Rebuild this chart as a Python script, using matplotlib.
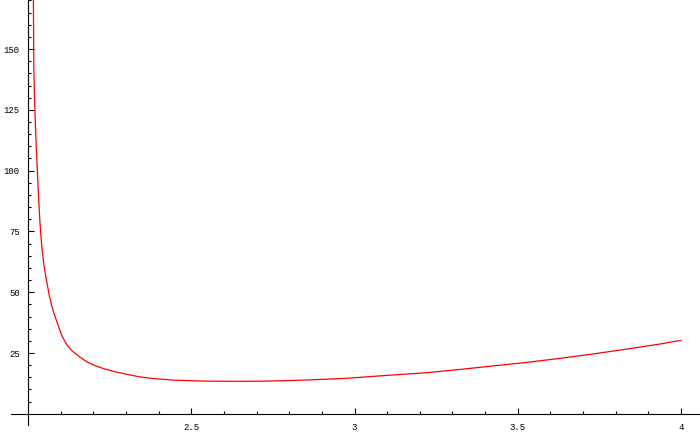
import matplotlib
matplotlib.use("Agg")
import matplotlib.pyplot as plt
import numpy as np

# curve points
x_vals = [2.0165, 2.0178, 2.0208, 2.0239, 2.0270, 2.0300, 2.0331, 2.0361, 2.0392,
          2.0423, 2.0453, 2.0484, 2.0515, 2.0551, 2.0652, 2.0744, 2.0848, 2.0940,
          2.1041, 2.1194, 2.1348, 2.1593, 2.1798, 2.2052, 2.2358, 2.2665, 2.2971,
          2.3370, 2.3710, 2.4060, 2.4460, 2.5400, 2.6370, 2.7350, 2.8330, 2.9070,
          2.9770, 3.0170, 3.1100, 3.2211, 3.3200, 3.4251, 3.5250, 3.6294, 3.7300,
          3.8337, 3.9357, 4.0000]
y_vals = [170.0, 141.4, 126.2, 114.2, 104.5, 95.7, 87.2, 79.8, 73.6,
          68.8, 64.9, 61.6, 58.8, 55.9, 48.6, 43.5, 39.2, 35.7,
          32.0, 28.3, 25.9, 23.3, 21.4, 19.8, 18.4, 17.3, 16.4,
          15.3, 14.7, 14.25, 13.85, 13.45, 13.36, 13.45, 13.8, 14.2,
          14.6, 15.0, 15.9, 16.9, 18.2, 19.7, 21.1, 22.8, 24.6,
          26.6, 28.7, 30.2]

x_major = [2.5, 3, 3.5, 4]
x_labels = ["2.5", "3", "3.5", "4"]
y_major = [25, 50, 75, 100, 125, 150]
y_labels = ["25", "50", "75", "100", "125", "150"]

fig = plt.figure(figsize=(7, 4.32), dpi=100)
ax = fig.add_axes([0, 0, 1, 1])
ax.plot(x_vals, y_vals, color="red", lw=0.9)

ax.set_xlim(1.9142, 4.0582)
ax.set_ylim(-7.48, 170.16)

for s in ["top", "right"]:
    ax.spines[s].set_visible(False)
ax.spines["left"].set_position(("data", 2))
ax.spines["bottom"].set_position(("data", 0))
ax.spines["left"].set_bounds(-4.6, 170.16)
ax.spines["bottom"].set_bounds(1.948, 4.0582)
for s in ["left", "bottom"]:
    ax.spines[s].set_linewidth(0.8)
    ax.spines[s].set_color("black")

minor_x = [v for v in np.round(np.arange(2.1, 4.01, 0.1), 2) if v not in x_major]
minor_y = [v for v in range(5, 171, 5) if v not in y_major]

ax.set_xticks(x_major, x_labels)
ax.set_yticks(y_major, y_labels)
ax.set_xticks(minor_x, minor=True)
ax.set_yticks(minor_y, minor=True)

ax.tick_params(which="both", direction="in", width=0.8, color="black")
ax.tick_params(which="major", length=4.3)
ax.tick_params(which="minor", length=2.5)
ax.tick_params(axis="x", which="major", pad=6.5)
ax.tick_params(axis="y", which="major", pad=6)
for lab in ax.get_xticklabels() + ax.get_yticklabels():
    lab.set_fontfamily("Liberation Mono")
    lab.set_fontsize(6.5)

fig.savefig("out.png", dpi=100)
